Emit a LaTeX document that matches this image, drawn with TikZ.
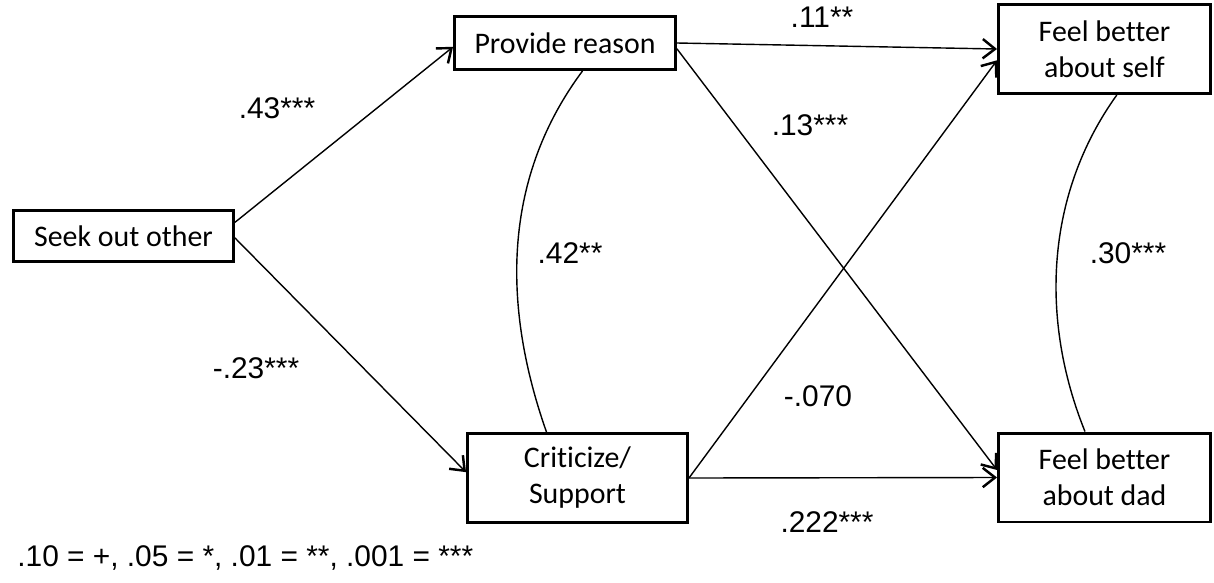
\documentclass[tikz,border=0pt]{standalone}
\usepackage{fontspec}
\setmainfont{Carlito}[Ligatures=CommonOff]
\newfontfamily\coeffont{Liberation Sans}
\usetikzlibrary{positioning, arrows.meta}
\tikzstyle{Arrow} = [
    line width = 0.8pt,
    -{Straight Barb[length = 7pt, width = 11pt, line width = 1.4pt]}
]
\tikzstyle{Link} = [line width = 0.8pt]

\begin{document}
\begin{tikzpicture}[
x = 0.02cm, y = -0.02cm,
var/.style = {
    rectangle,
    draw,
    line width = 1.7pt,
    inner sep = 0pt,
    align = center,
    font = \fontsize{17}{20.5}\selectfont
    },
coef/.style = {
    inner sep = 0pt,
    font = \coeffont\fontsize{17}{20}\selectfont
    }
]

\useasboundingbox (0,0) rectangle (1214,582);

\node [var, minimum width = 4.40cm, minimum height = 1.02cm] (1) at (123.5,236) {Seek out other};
\node [var, minimum width = 4.42cm, minimum height = 1.06cm] (2) at (565,43) {Provide reason};
\node [var, minimum width = 4.40cm, minimum height = 1.78cm] (3) at (577.5,478) {Criticize/\\Support};
\node [var, minimum width = 4.24cm, minimum height = 1.78cm] (4) at (1104.5,49) {Feel better\\about self};
\node [var, minimum width = 4.24cm, minimum height = 1.78cm] (5) at (1104.5,477.5) {Feel better\\about dad};

\draw[Arrow] (1.7) -- (2.182);
\draw[Arrow] (1.-1) -- (3.177);
\draw[Arrow] (2.east) -- (4.west);
\draw[Arrow] (2.-3) -- (5.176);
\draw[Arrow] (3.east) -- (4.186);
\draw[Arrow] (3.east) -- (5.west);

\draw[Link] (2.-58) .. controls (505,175) and (500,300) .. (3.124);
\draw[Link] (4.-75) .. controls (1045,195) and (1040,320) .. (5.113);

\node [coef] (w1) at (277,108) {.43***};
\node [coef] (w2) at (256,368) {-.23***};
\node [coef] (w3) at (570,253) {.42**};
\node [coef] (w4) at (822,17) {.11**};
\node [coef] (w5) at (810,125) {.13***};
\node [coef] (w6) at (818,396) {-.070};
\node [coef] (w7) at (827,522) {.222***};
\node [coef] (w8) at (1128,253) {.30***};

\node [coef, anchor = west] (key) at (17,558) {.10 = +, .05 = *, .01 = **, .001 = ***};

\end{tikzpicture}
\end{document}
